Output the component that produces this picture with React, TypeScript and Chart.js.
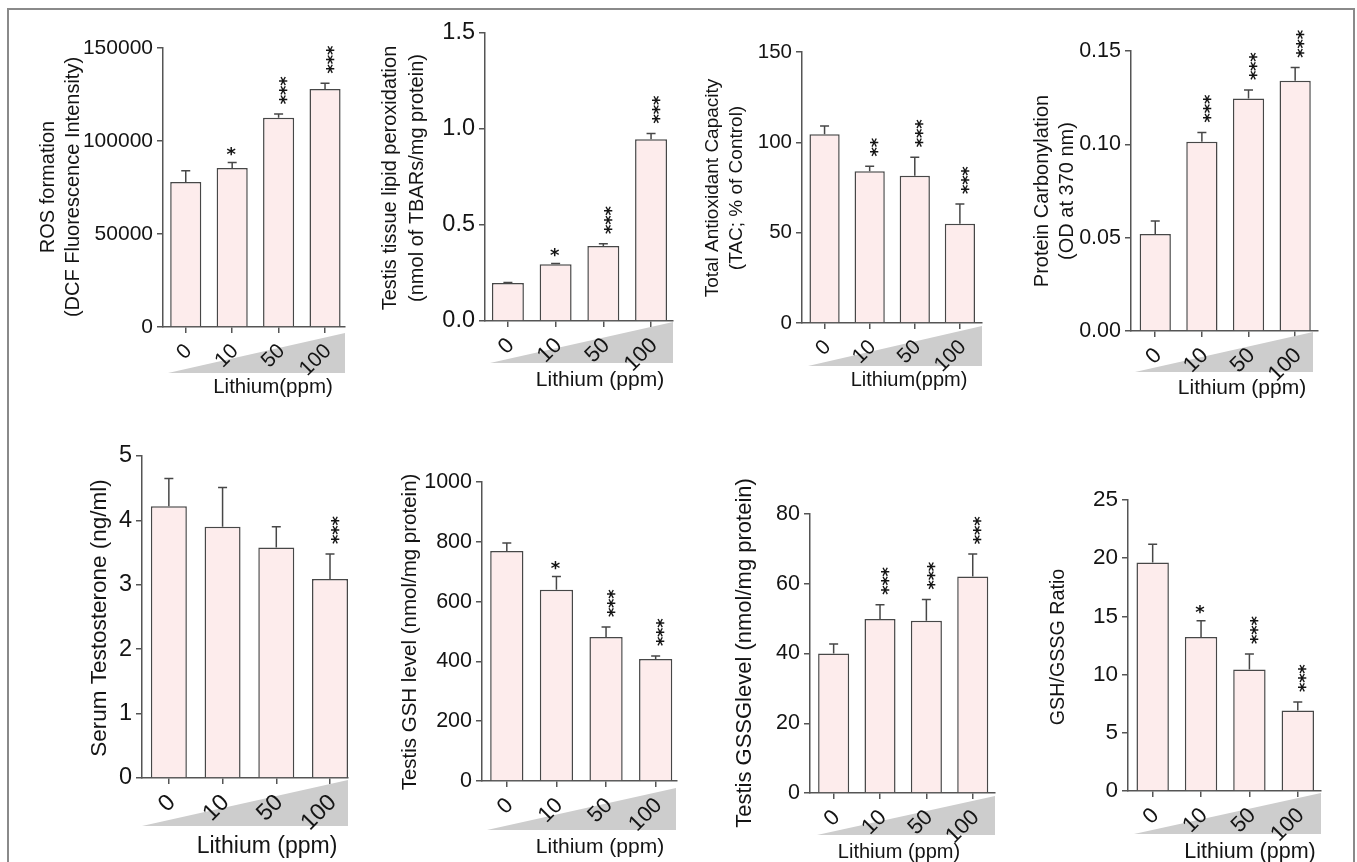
import React, { useEffect, useRef } from 'react';
import { Chart, registerables } from 'chart.js';

Chart.register(...registerables);

const W = 1357;
const H = 862;
const FONT = '"Liberation Sans", Arial, Helvetica, sans-serif';
const STAR_FONT = '"DejaVu Sans", Verdana, sans-serif';
const TEXT = '#141414';
const AXIS = '#555555';
const EDGE = '#474747';
const FILL = '#fdecec';
const WEDGE = '#cdcdcd';

// ---- data ----
const doses = ['0', '10', '50', '100'];

const rosMean = [78000, 85500, 112500, 128000];
const rosErr = [6000, 3000, 2000, 3000];
const rosSig = ['', '*', '***', '***'];

const lpoMean = [0.198, 0.295, 0.39, 0.947];
const lpoErr = [0.003, 0.004, 0.012, 0.03];
const lpoSig = ['', '*', '***', '***'];

const tacMean = [104.5, 84, 81.5, 55];
const tacErr = [4.5, 2.7, 10.3, 10.9];
const tacSig = ['', '**', '***', '***'];

const carbMean = [0.052, 0.1014, 0.1246, 0.1341];
const carbErr = [0.0069, 0.005, 0.0045, 0.007];
const carbSig = ['', '***', '***', '***'];

const testoMean = [4.22, 3.9, 3.58, 3.09];
const testoErr = [0.43, 0.61, 0.32, 0.39];
const testoSig = ['', '', '', '***'];

const gshMean = [769, 640, 482, 408];
const gshErr = [27, 44, 33, 10];
const gshSig = ['', '*', '***', '***'];

const gssgMean = [40, 49.9, 49.4, 62.1];
const gssgErr = [2.7, 4.1, 6.1, 6.4];
const gssgSig = ['', '***', '***', '***'];

const ratioMean = [19.64, 13.24, 10.44, 6.91];
const ratioErr = [1.55, 1.38, 1.34, 0.74];
const ratioSig = ['', '*', '***', '***'];

type Panel = {
  means: number[];
  errs: number[];
  sig: string[];
  yMax: number;
  yStep: number;
  dec: number;
  yTitle: string[];
  xTitle: string;
  // layout (page pixels)
  axisX: number;
  axisEnd: number;
  yTop: number;
  axisY: number;
  xMin: number;
  xMax: number;
  tickFs: number;
  titleFs: number;
  titleXs: number[];
  titleY: number;
  labFs: number;
  xTitleFs: number;
  xTitlePos: [number, number];
  wedge: { l: number; t: number; b: number; r: number };
};

const panels: Panel[] = [
  {
    means: rosMean, errs: rosErr, sig: rosSig, yMax: 150000, yStep: 50000, dec: 0,
    yTitle: ['ROS formation', '(DCF Fluorescence Intensity)'], xTitle: 'Lithium(ppm)',
    axisX: 163, axisEnd: 345, yTop: 48, axisY: 327, xMin: -0.49, xMax: 3.43,
    tickFs: 21, titleFs: 20, titleXs: [48, 73], titleY: 187, labFs: 21, xTitleFs: 20.5,
    xTitlePos: [273, 387], wedge: { l: 5, t: 6, b: 46, r: 0 },
  },
  {
    means: lpoMean, errs: lpoErr, sig: lpoSig, yMax: 1.5, yStep: 0.5, dec: 1,
    yTitle: ['Testis tissue lipid peroxidation', '(nmol of TBARs/mg protein)'], xTitle: 'Lithium (ppm)',
    axisX: 485, axisEnd: 673, yTop: 33, axisY: 321, xMin: -0.48, xMax: 3.46,
    tickFs: 23.5, titleFs: 20, titleXs: [390, 417], titleY: 178, labFs: 22, xTitleFs: 21,
    xTitlePos: [600, 380], wedge: { l: 5, t: 1, b: 42, r: 0 },
  },
  {
    means: tacMean, errs: tacErr, sig: tacSig, yMax: 150, yStep: 50, dec: 0,
    yTitle: ['Total Antioxidant Capacity', '(TAC; % of Control)'], xTitle: 'Lithium(ppm)',
    axisX: 802, axisEnd: 982, yTop: 52, axisY: 323, xMin: -0.5, xMax: 3.49,
    tickFs: 20.5, titleFs: 19, titleXs: [713, 737], titleY: 188, labFs: 21, xTitleFs: 20,
    xTitlePos: [909, 380], wedge: { l: 6, t: 3, b: 43, r: 0 },
  },
  {
    means: carbMean, errs: carbErr, sig: carbSig, yMax: 0.15, yStep: 0.05, dec: 2,
    yTitle: ['Protein Carbonylation', '(OD at 370 nm)'], xTitle: 'Lithium (ppm)',
    axisX: 1131, axisEnd: 1318, yTop: 51, axisY: 331, xMin: -0.52, xMax: 3.49,
    tickFs: 21.5, titleFs: 20, titleXs: [1042, 1067], titleY: 191, labFs: 22, xTitleFs: 21,
    xTitlePos: [1242, 388], wedge: { l: 4, t: 1, b: 41, r: -5 },
  },
  {
    means: testoMean, errs: testoErr, sig: testoSig, yMax: 5, yStep: 1, dec: 0,
    yTitle: ['Serum Testosterone (ng/ml)'], xTitle: 'Lithium (ppm)',
    axisX: 142, axisEnd: 348, yTop: 456, axisY: 778, xMin: -0.5, xMax: 3.335,
    tickFs: 23.5, titleFs: 22.5, titleXs: [100], titleY: 618, labFs: 23.5, xTitleFs: 23,
    xTitlePos: [267, 847], wedge: { l: 0, t: 2, b: 48, r: 0 },
  },
  {
    means: gshMean, errs: gshErr, sig: gshSig, yMax: 1000, yStep: 200, dec: 0,
    yTitle: ['Testis GSH level (nmol/mg protein)'], xTitle: 'Lithium (ppm)',
    axisX: 482, axisEnd: 677, yTop: 482, axisY: 781, xMin: -0.5, xMax: 3.43,
    tickFs: 21.5, titleFs: 20.5, titleXs: [410], titleY: 632, labFs: 22, xTitleFs: 21,
    xTitlePos: [600, 847], wedge: { l: 5, t: 7, b: 49, r: -1 },
  },
  {
    means: gssgMean, errs: gssgErr, sig: gssgSig, yMax: 80, yStep: 20, dec: 0,
    yTitle: ['Testis GSSGlevel (nmol/mg protein)'], xTitle: 'Lithium (ppm)',
    axisX: 810, axisEnd: 995, yTop: 514, axisY: 793, xMin: -0.51, xMax: 3.48,
    tickFs: 21.5, titleFs: 22, titleXs: [745], titleY: 653, labFs: 22, xTitleFs: 20,
    xTitlePos: [899, 852], wedge: { l: 7, t: 3, b: 42, r: 0 },
  },
  {
    means: ratioMean, errs: ratioErr, sig: ratioSig, yMax: 25, yStep: 5, dec: 0,
    yTitle: ['GSH/GSSG Ratio'], xTitle: 'Lithium (ppm)',
    axisX: 1128, axisEnd: 1321, yTop: 500, axisY: 791, xMin: -0.51, xMax: 3.48,
    tickFs: 22.5, titleFs: 19.7, titleXs: [1059], titleY: 647, labFs: 22, xTitleFs: 21.5,
    xTitlePos: [1250, 852], wedge: { l: 6, t: 2, b: 43, r: 0 },
  },
];

function drawOverlay(chart: any, p: Panel) {
  const ctx: CanvasRenderingContext2D = chart.ctx;
  const xs = chart.scales.x;
  const ys = chart.scales.y;
  const area = chart.chartArea;
  ctx.save();

  // wedge (dose gradient)
  ctx.fillStyle = WEDGE;
  ctx.beginPath();
  ctx.moveTo(area.left + p.wedge.l, area.bottom + p.wedge.b);
  ctx.lineTo(area.right + p.wedge.r, area.bottom + p.wedge.t);
  ctx.lineTo(area.right + p.wedge.r, area.bottom + p.wedge.b);
  ctx.closePath();
  ctx.fill();

  // rotated dose labels
  ctx.fillStyle = TEXT;
  ctx.font = `${p.labFs}px ${FONT}`;
  ctx.textAlign = 'right';
  ctx.textBaseline = 'middle';
  doses.forEach((d, i) => {
    const cx = xs.getPixelForValue(i);
    ctx.save();
    ctx.translate(cx + 3, area.bottom + 21);
    ctx.rotate(-Math.PI / 4);
    ctx.fillText(d, 0, 0);
    ctx.restore();
  });

  // x title
  ctx.font = `${p.xTitleFs}px ${FONT}`;
  ctx.textAlign = 'center';
  ctx.textBaseline = 'middle';
  ctx.fillText(p.xTitle, p.xTitlePos[0], p.xTitlePos[1]);

  // y title
  ctx.font = `${p.titleFs}px ${FONT}`;
  p.yTitle.forEach((line, k) => {
    ctx.save();
    ctx.translate(p.titleXs[k], p.titleY);
    ctx.rotate(-Math.PI / 2);
    ctx.textAlign = 'center';
    ctx.textBaseline = 'middle';
    ctx.fillText(line, 0, 0);
    ctx.restore();
  });

  // error bars
  ctx.strokeStyle = EDGE;
  ctx.lineWidth = 1.5;
  p.means.forEach((m, i) => {
    const cx = xs.getPixelForValue(i);
    const y0 = ys.getPixelForValue(m);
    const y1 = ys.getPixelForValue(m + p.errs[i]);
    ctx.beginPath();
    ctx.moveTo(cx, y0);
    ctx.lineTo(cx, y1);
    ctx.moveTo(cx - 4.5, y1);
    ctx.lineTo(cx + 4.5, y1);
    ctx.stroke();
  });

  // significance stars
  const sf = 18;
  const lift = 0.59 * sf;
  const step = 9.2;
  ctx.fillStyle = TEXT;
  ctx.font = `bold ${sf}px ${STAR_FONT}`;
  ctx.textAlign = 'center';
  ctx.textBaseline = 'alphabetic';
  p.sig.forEach((s, i) => {
    if (!s) return;
    const cx = xs.getPixelForValue(i);
    const yt = ys.getPixelForValue(p.means[i] + p.errs[i]);
    if (s.length === 1) {
      ctx.fillText(s, cx - 1, yt - 13 + lift);
    } else {
      for (let k = 0; k < s.length; k++) {
        ctx.save();
        ctx.translate(cx + 3, yt - 10 - step / 2 - k * step);
        ctx.rotate(-Math.PI / 2);
        ctx.fillText('*', 0, lift);
        ctx.restore();
      }
    }
  });

  ctx.restore();
}

function PanelChart({ p }: { p: Panel }) {
  const ref = useRef<HTMLCanvasElement>(null);
  useEffect(() => {
    const canvas = ref.current;
    if (!canvas) return;
    const overlay = {
      id: 'overlay',
      afterDatasetsDraw(chart: any) {
        drawOverlay(chart, p);
      },
    };
    const gridOpts = {
      display: true,
      drawOnChartArea: false,
      drawTicks: true,
      tickLength: 6,
      color: AXIS,
      tickColor: AXIS,
      lineWidth: 1.5,
      offset: false,
    };
    const chart = new Chart(canvas, {
      type: 'bar',
      data: {
        datasets: [
          {
            data: p.means.map((v, i) => ({ x: i, y: v })),
            backgroundColor: FILL,
            borderColor: EDGE,
            borderWidth: 1.5,
            borderSkipped: 'bottom',
            barPercentage: 0.67,
            categoryPercentage: 1,
          },
        ],
      },
      options: {
        animation: false,
        responsive: false,
        maintainAspectRatio: false,
        events: [],
        layout: { padding: { left: 0, top: p.yTop, right: W - p.axisEnd, bottom: 0 }, autoPadding: false },
        plugins: { legend: { display: false }, tooltip: { enabled: false }, title: { display: false } },
        scales: {
          x: {
            type: 'linear',
            min: p.xMin,
            max: p.xMax,
            offset: false,
            afterBuildTicks: (s: any) => {
              s.ticks = doses.map((_, i) => ({ value: i }));
            },
            afterFit: (s: any) => {
              s.height = H - p.axisY;
            },
            ticks: { display: false },
            grid: gridOpts,
            border: { display: true, color: AXIS, width: 1.5 },
          },
          y: {
            type: 'linear',
            min: 0,
            max: p.yMax,
            afterFit: (s: any) => {
              s.width = p.axisX;
            },
            ticks: {
              stepSize: p.yStep,
              padding: 4,
              color: TEXT,
              font: { family: FONT, size: p.tickFs },
              callback: (v: any) => Number(v).toFixed(p.dec),
            },
            grid: gridOpts,
            border: { display: true, color: AXIS, width: 1.5 },
          },
        },
      } as any,
      plugins: [overlay],
    });
    return () => chart.destroy();
  }, [p]);
  return (
    <canvas
      ref={ref}
      width={W}
      height={H}
      style={{ position: 'absolute', left: 0, top: 0, width: W, height: H }}
    />
  );
}

export default function App() {
  return (
    <div
      style={{
        position: 'absolute',
        left: 0,
        top: 0,
        width: W,
        height: H,
        overflow: 'hidden',
        background: '#ffffff',
      }}
    >
      <div
        style={{
          position: 'absolute',
          left: 7,
          top: 8,
          width: 1348,
          height: 900,
          border: '2px solid #8a8a8a',
          boxSizing: 'border-box',
        }}
      />
      {panels.map((p, i) => (
        <PanelChart key={i} p={p} />
      ))}
    </div>
  );
}
